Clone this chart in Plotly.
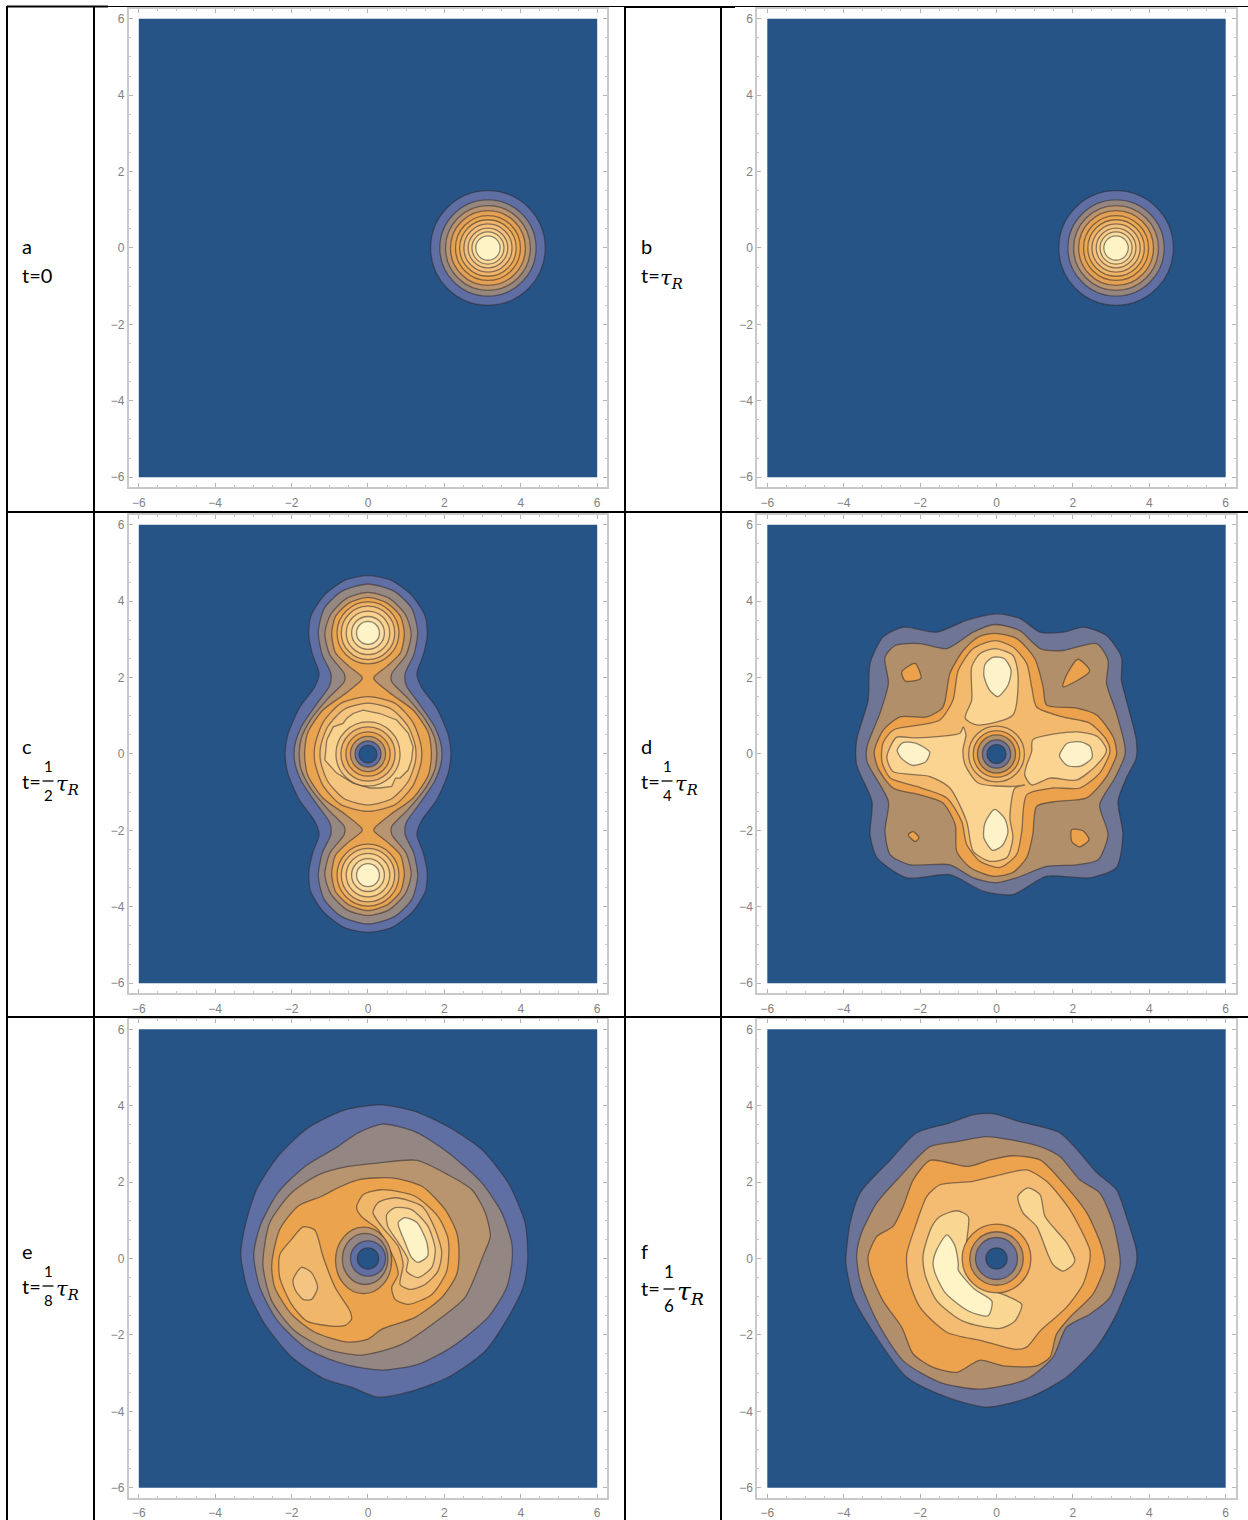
import plotly.graph_objects as go

# ---------- values (axis units) ----------
TICKS = [-6, -4, -2, 0, 2, 4, 6]
FIELD = [(-6, -6), (6, -6), (6, 6), (-6, 6)]

# panels a, b : one packet, contour radii
A_CENTER = (3.14, 0.0)
B_CENTER = (3.13, 0.0)
PACKET_RADII = [1.50, 1.26, 1.11, 0.98, 0.85, 0.74, 0.63, 0.52, 0.42, 0.32]

# panel c : right-hand halves of the merged contours
C1 = [(0,4.67),(0.6,4.55),(1.15,4.15),(1.5,3.6),(1.55,3.1),(1.45,2.6),(1.28,2.1),(1.4,1.75),(1.8,1.2),(2.1,0.5),(2.17,0),(2.1,-0.5),(1.8,-1.2),(1.4,-1.75),(1.28,-2.1),(1.45,-2.6),(1.55,-3.1),(1.5,-3.6),(1.15,-4.15),(0.6,-4.55),(0,-4.67)]
C2 = [(0,4.45),(0.7,4.25),(1.15,3.8),(1.3,3.2),(1.2,2.6),(0.97,2.1),(1.0,1.8),(1.35,1.3),(1.75,0.7),(1.92,0.2),(1.92,-0.2),(1.75,-0.7),(1.35,-1.3),(1.0,-1.8),(0.97,-2.1),(1.2,-2.6),(1.3,-3.2),(1.15,-3.8),(0.7,-4.25),(0,-4.45)]
C3 = [(0,4.23),(0.55,4.08),(0.98,3.65),(1.13,3.15),(1.0,2.6),(0.62,2.1),(0.62,1.9),(1.05,1.45),(1.5,0.9),(1.75,0.4),(1.8,0),(1.75,-0.4),(1.5,-0.9),(1.05,-1.45),(0.62,-1.9),(0.62,-2.1),(1.0,-2.6),(1.13,-3.15),(0.98,-3.65),(0.55,-4.08),(0,-4.23)]
C4 = [(0,4.10),(0.5,3.95),(0.85,3.6),(0.95,3.15),(0.85,2.65),(0.5,2.3),(0.16,2.02),(0.16,1.95),(0.58,1.59),(1.18,1.15),(1.58,0.55),(1.66,0),(1.58,-0.55),(1.18,-1.15),(0.58,-1.59),(0.16,-1.95),(0.16,-2.02),(0.5,-2.3),(0.85,-2.65),(0.95,-3.15),(0.85,-3.6),(0.5,-3.95),(0,-4.10)]
C5 = [(0,1.5),(0.72,1.32),(1.18,0.82),(1.39,0.22),(1.39,-0.22),(1.18,-0.82),(0.72,-1.32),(0,-1.5)]
C6 = [(0,1.33),(0.62,1.17),(1.05,0.72),(1.24,0.2),(1.24,-0.2),(1.05,-0.72),(0.62,-1.17),(0,-1.33)]
C_JAGGED = [(-1.13,-0.16),(-1.08,0.37),(-0.91,0.71),(-0.65,0.8),(-0.56,0.93),(-0.39,1.06),(-0.13,1.15),(0.31,1.06),(0.75,0.89),(1.05,0.55),(1.18,0.19),(1.14,-0.16),(1.05,-0.42),(0.84,-0.63),(0.72,-0.63),(0.62,-0.85),(0.31,-0.89),(0.05,-0.89),(-0.39,-0.76),(-0.82,-0.5)]
C_LOBE_CENTER_Y = 3.17
C_LOBE_RADII = [0.81, 0.70, 0.57, 0.43, 0.30]
C_HOLE_RADII = [0.84, 0.71, 0.58, 0.46, 0.34, 0.235]

# panel d
D1 = [(0,3.67),(.61,3.55),(1.14,3.19),(1.75,3.19),(2.27,3.32),(2.88,3.1),(3.27,2.54),(3.27,1.93),(3.4,1.41),(3.66,.37),(3.66,-.1),(3.4,-.63),(3.18,-1.24),(3.31,-2.11),(3.14,-2.97),(2.44,-3.24),(1.31,-3.2),(.43,-3.68),(-.35,-3.59),(-1.22,-3.16),(-2.35,-3.24),(-3.13,-2.71),(-3.31,-2.11),(-3.26,-1.24),(-3.66,-.29),(-3.66,.37),(-3.36,1.41),(-3.31,2.37),(-2.97,3.06),(-2.44,3.32),(-1.56,3.19),(-.78,3.5)]
D2 = [(-.04,3.39),(.61,3.23),(1.14,2.76),(1.75,2.71),(2.62,2.89),(2.92,2.45),(2.88,1.85),(3.14,1.07),(3.36,.2),(3.36,-.03),(3.1,-.63),(2.7,-1.33),(2.92,-2.11),(2.66,-2.77),(2.1,-2.9),(1.31,-2.94),(.53,-3.24),(0,-3.37),(-.61,-3.24),(-1.22,-2.9),(-2.26,-2.9),(-2.78,-2.64),(-2.92,-2.03),(-2.83,-1.24),(-3.39,-.2),(-3.39,.19),(-3.05,1.07),(-2.83,1.85),(-2.92,2.54),(-2.65,2.84),(-2,2.89),(-1.3,2.76),(-.61,3.19)]
D3 = [(-.04,3.16),(.53,3.02),(1.0,2.5),(1.22,1.76),(1.31,1.28),(2.1,1.2),(2.62,1.02),(3.05,.45),(3.14,.1),(3.14,-.03),(2.88,-.59),(2.36,-1.15),(1.57,-1.24),(1.05,-1.37),(.95,-2.11),(.79,-2.71),(.43,-3.1),(-.09,-3.2),(-.69,-2.97),(-1.04,-2.55),(-1.08,-1.85),(-1.4,-1.28),(-2,-1.07),(-2.71,-.89),(-3.1,-.37),(-3.2,.06),(-2.96,.63),(-2.52,.97),(-1.82,.97),(-1.4,1.23),(-1.22,2.11),(-.87,2.71),(-.48,3.06)]
D4 = [(-.04,2.97),(.43,2.8),(.79,2.37),(.92,1.76),(1.05,1.23),(1.74,.97),(2.44,.81),(2.88,.37),(2.97,.06),(2.7,-.5),(2.18,-.89),(1.48,-.89),(.79,-1.07),(.66,-2.03),(.53,-2.63),(.09,-2.97),(-.43,-2.81),(-.78,-2.37),(-.91,-1.77),(-1.3,-1.15),(-2.09,-.85),(-2.78,-.63),(-3,-.2),(-2.97,.29),(-2.7,.63),(-2,.76),(-1.48,.89),(-1.14,1.41),(-1.0,2.19),(-.61,2.76)]
D5_TOP = [(-.04,2.76),(.43,2.58),(.56,2.11),(.43,1.02),(-.52,.76),(-.82,.94),(-.65,1.41),(-.65,2.28),(-.43,2.63)]
D5_LEFT_BOTTOM = [(-2.78,.19),(-2.61,.44),(-2.09,.42),(-.95,.55),(-.87,.71),(-.8,.5),(-.88,.1),(-.82,-.29),(-.48,-.76),(.43,-.85),(.74,-.81),(.48,-.89),(.35,-1.67),(.43,-2.19),(.27,-2.71),(-.17,-2.81),(-.61,-2.55),(-.78,-1.77),(-1.22,-.89),(-1.74,-.59),(-2.71,-.46),(-2.87,-.1)]
D5_RIGHT = [(.95,.37),(2.1,.58),(2.65,.45),(2.88,.1),(2.62,-.29),(2.1,-.68),(1.4,-.63),(.92,-.81),(.74,-.55),(.79,-.29),(.92,.06)]
D6_TOP = [(-.1,2.53),(.2,2.5),(.38,2.2),(.3,1.8),(.03,1.5),(-.2,1.7),(-.33,2.05),(-.3,2.35)]
D6_BOTTOM = [(-.05,-1.45),(.22,-1.7),(.3,-2.05),(.15,-2.4),(-.1,-2.52),(-.33,-2.2),(-.3,-1.8)]
D6_LEFT = [(-2.45,.3),(-2.1,.28),(-1.75,.05),(-1.85,-.2),(-2.2,-.3),(-2.5,-.1),(-2.6,.1)]
D6_RIGHT = [(1.85,.28),(2.2,.32),(2.45,.2),(2.5,-.1),(2.2,-.32),(1.85,-.3),(1.65,-.05)]
D_ISLE_TL = [(-2.48,2.15),(-2.13,2.37),(-1.98,1.98),(-2.39,1.91)]
D_ISLE_TR = [(2.13,2.48),(2.44,2.17),(1.74,1.76),(1.83,2.06)]
D_ISLE_BL = [(-2.31,-2.11),(-2.18,-2.03),(-2.03,-2.19),(-2.13,-2.29)]
D_ISLE_BR = [(1.97,-1.98),(2.26,-2.01),(2.42,-2.24),(2.18,-2.43),(1.97,-2.29)]
D_HOLE_RADII = [0.73, 0.61, 0.50, 0.37, 0.25]

# panel e
E1 = [(.36,4.02),(1.23,3.85),(2.1,3.45),(2.98,2.85),(3.67,1.98),(4.11,.94),(4.18,-.05),(4.06,-.76),(3.67,-1.54),(3.07,-2.42),(2.1,-3.11),(1.05,-3.5),(.26,-3.63),(-.43,-3.37),(-1.13,-3.16),(-2,-2.58),(-2.7,-1.72),(-3.14,-.85),(-3.33,.1),(-3.22,.84),(-2.92,1.8),(-2.36,2.67),(-1.57,3.42),(-.6,3.89)]
E2 = [(.39,3.52),(1.23,3.32),(2.1,2.77),(2.98,1.98),(3.5,1.2),(3.76,.42),(3.77,-.07),(3.63,-.76),(3.14,-1.54),(2.19,-2.32),(1.31,-2.77),(.36,-2.92),(-.6,-2.77),(-1.57,-2.38),(-2.36,-1.64),(-2.83,-.76),(-2.99,.1),(-2.83,.84),(-2.36,1.72),(-1.65,2.41),(-.79,2.93),(-.26,3.29)]
E3 = [(1.28,2.57),(2.1,2.19),(2.72,1.8),(3.07,1.2),(3.2,.58),(3.01,.06),(2.54,-1.02),(1.93,-1.54),(.88,-2.25),(-.17,-2.53),(-1.05,-2.38),(-1.91,-1.9),(-2.52,-1.11),(-2.75,-.16),(-2.57,.94),(-2,1.72),(-1.3,2.19),(-.52,2.41),(.26,2.5)]
E4 = [(-.26,2.06),(.62,2.11),(1.41,1.89),(2.02,1.28),(2.32,.68),(2.38,.23),(2.32,-.42),(1.93,-1.02),(1.23,-1.54),(.36,-1.85),(0,-2.11),(-.52,-2.19),(-1.39,-1.93),(-2,-1.46),(-2.44,-.76),(-2.52,-.16),(-2.31,.76),(-1.83,1.37),(-1.21,1.63),(-.79,1.85)]
E5_LEFT = [(-1.7,.83),(-1.39,.74),(-1.18,.06),(-.86,-.76),(-.47,-1.38),(-.43,-1.59),(-.6,-1.75),(-.95,-1.77),(-1.6,-1.64),(-2,-1.2),(-2.31,-.5),(-2.31,.1),(-2,.5)]
E6_LEFT = [(-1.96,-.55),(-1.74,-.23),(-1.48,-.37),(-1.32,-.76),(-1.48,-1.07),(-1.7,-1.07),(-1.91,-.81)]
E5_RIGHT = [(-.3,1.33),(-.13,1.67),(.36,1.8),(1.23,1.63),(1.83,1.1),(2.1,.5),(2.06,-.33),(1.67,-.94),(1.05,-1.2),(.71,-1.07),(.62,-.76),(.79,-.42),(.71,-.07),(.52,.32),(.26,.76),(-.17,1.1)]
E6_RIGHT = [(.13,1.2),(.26,1.46),(.71,1.59),(1.41,1.37),(1.76,.76),(1.93,.16),(1.83,-.33),(1.49,-.68),(1.1,-.81),(.84,-.68),(.92,-.16),(.79,.32),(.36,.84)]
E7_RIGHT = [(.49,1.15),(.71,1.33),(1.14,1.28),(1.57,.84),(1.76,.23),(1.67,-.23),(1.31,-.5),(1.01,-.33),(1.05,-.03),(.79,.42),(.52,.84)]
E8_RIGHT = [(.79,.94),(.97,1.07),(1.28,.94),(1.54,.42),(1.56,.06),(1.31,-.1),(1.14,.03),(.97,.42)]
E_HOLES = [(-.85,.62,-.92,.82), (-.67,.52,-.68,.66), (-.46,.46,-.46,.46), (-.28,.28,-.28,.28)]

# panel f
F1 = [(-.09,3.79),(.61,3.58),(1.66,3.29),(2.18,2.77),(2.62,2.25),(3.14,1.8),(3.4,1.1),(3.66,.23),(3.66,-.16),(3.4,-.85),(3.1,-1.54),(2.62,-2.32),(1.83,-3.11),(.88,-3.63),(-.26,-3.89),(-1.3,-3.63),(-2.35,-3.11),(-3.31,-1.8),(-3.75,-1.02),(-3.94,-.16),(-3.94,.06),(-3.83,.94),(-3.57,1.72),(-2.78,2.58),(-2.09,3.29),(-1.22,3.55),(-.61,3.76)]
F2 = [(-.26,3.19),(.35,3.11),(1.14,2.93),(1.66,2.67),(2.18,2.06),(2.7,1.72),(3.05,.94),(3.23,.06),(3.23,-.23),(2.97,-1.02),(2.44,-1.46),(1.83,-1.8),(1.48,-2.58),(.79,-3.16),(-.43,-3.42),(-1.48,-3.24),(-2.44,-2.68),(-3.13,-1.64),(-3.57,-.59),(-3.66,.1),(-3.53,.68),(-3.13,1.46),(-2.52,2.15),(-1.74,2.93),(-1.04,3.06)]
F3 = [(-1.74,2.57),(-1.22,2.5),(-.74,2.41),(-.17,2.58),(.43,2.69),(1.14,2.58),(1.74,1.98),(2.36,1.2),(2.75,.32),(2.84,-.16),(2.52,-.94),(1.92,-1.54),(1.57,-1.98),(1.4,-2.58),(1.05,-2.81),(.17,-2.81),(-.43,-2.66),(-1.04,-2.98),(-1.66,-2.85),(-2.18,-2.5),(-2.48,-1.8),(-2.97,-1.11),(-3.31,-.33),(-3.36,.06),(-3.13,.58),(-2.71,.84),(-2.44,1.37),(-2.18,2.06)]
F4 = [(-1.48,1.93),(-.61,2.02),(.09,2.19),(.79,2.32),(1.31,2.02),(1.92,1.28),(2.44,.23),(2.44,-.07),(2.26,-.68),(1.83,-1.28),(1.14,-1.9),(.79,-2.32),(.53,-2.38),(-.35,-2.16),(-1.3,-1.93),(-2,-1.28),(-2.31,-.5),(-2.35,.1),(-2.09,.94),(-1.82,1.63)]
F5_LEFT = [(-1.48,1.1),(-1.04,1.25),(-.74,1.1),(-.78,.42),(-.74,-.23),(-.43,-.68),(.27,-.98),(.66,-1.2),(.48,-1.64),(.09,-1.83),(-.88,-1.64),(-1.56,-1.11),(-1.87,-.42),(-1.92,.1),(-1.69,.84)]
F5_RIGHT = [(.56,1.63),(.82,1.85),(1.14,1.67),(1.27,1.1),(1.83,.42),(2.05,-.03),(2,-.16),(1.74,-.33),(1.48,-.16),(1.35,.1),(1.05,.84),(.69,1.2)]
F6_CRESCENT = [(-1.58,.2),(-1.3,.62),(-1.1,.36),(-1.0,-.14),(-1.0,-.3),(-.58,-.8),(-.12,-1.12),(-.22,-1.5),(-.72,-1.38),(-1.34,-.9),(-1.62,-.35),(-1.66,-.1)]
F_HOLE_RADII = [0.90, 0.70, 0.55, 0.28]

# ---------- styles ----------
DARK = "#265487"
A_COLORS = ["#5f6fa3", "#968680", "#bc9570", "#e4a154", "#eba952", "#f0b56a", "#f4c27e", "#f8ce8a", "#fbdd9e", "#fef3c4"]
C_COLORS = ["#5f6fa3", "#958781", "#b89470", "#e8a451", "#efb368", "#f5c47e", "#f9d28e", "#fbdea3", "#fef3c6"]
D_COLORS = ["#6f7595", "#b08f6a", "#eca24c", "#f3ba6e", "#fad490", "#fef3c8"]
E_COLORS = ["#5f6fa3", "#948682", "#b8956f", "#eba34e", "#f0b669", "#f4c582", "#f9d694", "#fef3c6"]
F_COLORS = ["#6c7398", "#b28f6c", "#eda24e", "#f3bc72", "#f9d691", "#fef4c5"]
EDGE = "rgba(50,42,44,0.55)"
W, H = 1248, 1520
PX = 38.2
HALF = 6.26

fig = go.Figure()
shapes, annotations = [], []


def mirror(half):
    return list(half) + [(-x, y) for x, y in reversed(half[1:-1])]


def poly(sub, pts, color, smooth=True):
    closed = list(pts) + [pts[0]]
    fig.add_trace(go.Scatter(
        x=[p[0] for p in closed], y=[p[1] for p in closed], xaxis=f"x{sub}", yaxis=f"y{sub}",
        mode="lines", fill="toself", fillcolor=color, showlegend=False, hoverinfo="skip",
        line=dict(color=EDGE, width=1.3, shape="spline" if smooth else "linear", smoothing=0.7)))


def field(sub):
    closed = FIELD + [FIELD[0]]
    fig.add_trace(go.Scatter(
        x=[p[0] for p in closed], y=[p[1] for p in closed], xaxis=f"x{sub}", yaxis=f"y{sub}",
        mode="lines", fill="toself", fillcolor=DARK, showlegend=False, hoverinfo="skip",
        line=dict(color=DARK, width=0)))


def oval(sub, x0, x1, y0, y1, color):
    shapes.append(dict(type="circle", xref=f"x{sub}", yref=f"y{sub}", x0=x0, x1=x1, y0=y0, y1=y1,
                       fillcolor=color, line=dict(color=EDGE, width=1.3), layer="above"))


def ring(sub, cx, cy, r, color):
    oval(sub, cx - r, cx + r, cy - r, cy + r, color)


# panels
centers = {1: (368, 248), 2: (996.5, 248), 3: (368, 754), 4: (996.5, 754), 5: (368, 1258.5), 6: (996.5, 1258.5)}
layout = {}
for sub, (cx, cy) in centers.items():
    field(sub)
    sfx = "" if sub == 1 else str(sub)
    dom_x = [(cx - HALF * PX) / W, (cx + HALF * PX) / W]
    dom_y = [1 - (cy + HALF * PX) / H, 1 - (cy - HALF * PX) / H]
    common = dict(range=[-HALF, HALF], tickmode="array", tickvals=TICKS, ticks="inside", ticklen=4,
                  tickcolor="#b4b4b4", tickwidth=1, showgrid=False, zeroline=False, showline=True,
                  linecolor="#c9c9c9", linewidth=2, mirror="allticks",
                  tickfont=dict(family="Liberation Sans", size=12, color="#7f7f7f"),
                  minor=dict(tickvals=[v / 2 for v in range(-11, 12)], ticks="inside", ticklen=2,
                             tickcolor="#c4c4c4", tickwidth=1, showgrid=False))
    layout[f"xaxis{sfx}"] = dict(domain=dom_x, anchor=f"y{sfx}", ticklabelstandoff=3, **common)
    layout[f"yaxis{sfx}"] = dict(domain=dom_y, anchor=f"x{sfx}", **common)

# a, b
for sub, ctr, in ((1, A_CENTER), (2, B_CENTER)):
    for r, col in zip(PACKET_RADII, A_COLORS):
        ring(sub, ctr[0], ctr[1], r, col)

# c
poly(3, mirror(C1), C_COLORS[0])
poly(3, mirror(C2), C_COLORS[1])
poly(3, mirror(C3), C_COLORS[2])
poly(3, mirror(C4), C_COLORS[3])
poly(3, mirror(C5), C_COLORS[4])
poly(3, mirror(C6), C_COLORS[5])
poly(3, C_JAGGED, C_COLORS[6], smooth=False)
for sign in (1, -1):
    for r, col in zip(C_LOBE_RADII, C_COLORS[4:]):
        ring(3, 0, sign * C_LOBE_CENTER_Y, r, col)
for r, col in zip(C_HOLE_RADII, [C_COLORS[5], C_COLORS[4], C_COLORS[3], C_COLORS[2], C_COLORS[0], DARK]):
    ring(3, 0, 0, r, col)

# d
poly(4, D1, D_COLORS[0])
poly(4, D2, D_COLORS[1])
for isle in (D_ISLE_TL, D_ISLE_TR, D_ISLE_BL, D_ISLE_BR):
    poly(4, isle, D_COLORS[2])
poly(4, D3, D_COLORS[2])
poly(4, D4, D_COLORS[3])
for piece in (D5_TOP, D5_LEFT_BOTTOM, D5_RIGHT):
    poly(4, piece, D_COLORS[4])
for piece in (D6_TOP, D6_BOTTOM, D6_LEFT, D6_RIGHT):
    poly(4, piece, D_COLORS[5])
for r, col in zip(D_HOLE_RADII, [D_COLORS[3], D_COLORS[2], D_COLORS[1], D_COLORS[0], DARK]):
    ring(4, 0, 0, r, col)

# e
for pts, col in zip((E1, E2, E3, E4), E_COLORS):
    poly(5, pts, col)
poly(5, E5_LEFT, E_COLORS[4])
poly(5, E6_LEFT, E_COLORS[5])
for pts, col in zip((E5_RIGHT, E6_RIGHT, E7_RIGHT, E8_RIGHT), E_COLORS[4:]):
    poly(5, pts, col)
for (x0, x1, y0, y1), col in zip(E_HOLES, [E_COLORS[2], E_COLORS[1], E_COLORS[0], DARK]):
    oval(5, x0, x1, y0, y1, col)

# f
for pts, col in zip((F1, F2, F3, F4), F_COLORS):
    poly(6, pts, col)
poly(6, F5_LEFT, F_COLORS[4])
poly(6, F5_RIGHT, F_COLORS[4])
poly(6, F6_CRESCENT, F_COLORS[5])
for r, col in zip(F_HOLE_RADII, [F_COLORS[2], F_COLORS[1], F_COLORS[0], DARK]):
    ring(6, 0, 0, r, col)


# ---------- table rules ----------
def rule(x0, y0, x1, y1, width=2):
    shapes.append(dict(type="line", xref="paper", yref="paper", x0=x0 / W, x1=x1 / W,
                       y0=1 - y0 / H, y1=1 - y1 / H, line=dict(color="black", width=width), layer="above"))


for vx in (7, 94, 625, 721):
    rule(vx, 6, vx, H, 2)
rule(7, 6.5, 108, 6.5, 2)
rule(108, 6.5, W, 6.5, 1)
rule(625, 7, 735, 7, 2)
rule(7, 512, W, 512, 2)
rule(7, 1017, W, 1017, 2)


# ---------- labels ----------
def text(x, y, s, size=20, family="Lato", anchor="left"):
    annotations.append(dict(xref="paper", yref="paper", x=x / W, y=1 - y / H, text=s, showarrow=False,
                            xanchor=anchor, yanchor="middle", xshift=-2 if anchor == "left" else 0,
                            font=dict(family=family, size=size, color="black")))


def tau(x, y, size=21):
    text(x, y, "<i>τ<sub>R</sub></i>", size=size, family="DejaVu Serif")


def fraction(x, ytop, ybar, ybot, denom, size=15):
    text(x, ytop, "1", size=size, anchor="center")
    text(x, ybot, denom, size=size, anchor="center")
    rule(x - 5.5, ybar, x + 5.5, ybar, 1.3)


text(22, 246, "a"); text(22, 275, "t=0")
text(641, 246, "b"); text(641, 275, "t="); tau(660, 279)
text(22, 746, "c"); text(22, 781, "t="); fraction(48, 766, 781, 795, "2"); tau(56, 785)
text(641, 746, "d"); text(641, 781, "t="); fraction(667, 766, 781, 795, "4"); tau(675, 785)
text(22, 1251, "e"); text(22, 1286, "t="); fraction(48, 1271, 1286, 1300, "8"); tau(56, 1290)
text(641, 1251, "f"); text(641, 1288, "t="); fraction(669, 1271, 1289, 1305, "6", size=17); tau(677, 1293, size=25)

fig.update_layout(width=W, height=H, margin=dict(l=0, r=0, t=0, b=0), paper_bgcolor="white",
                  plot_bgcolor="white", shapes=shapes, annotations=annotations, showlegend=False, **layout)
fig.write_html("out.html", post_script="document.body.style.margin='0';", config={"displayModeBar": False})
